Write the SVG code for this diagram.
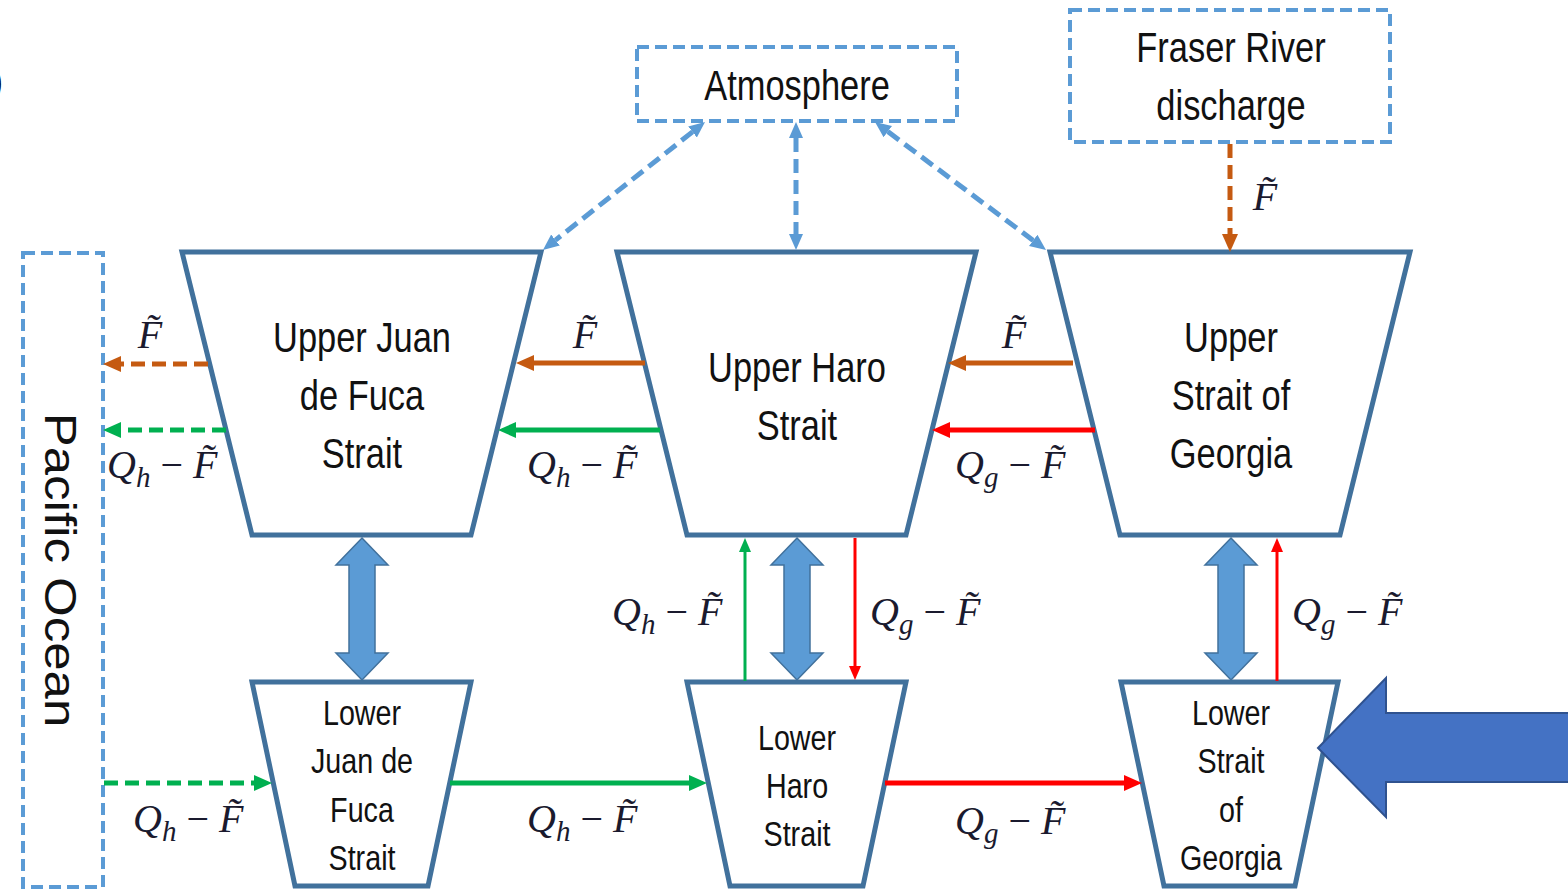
<svg xmlns="http://www.w3.org/2000/svg" width="1568" height="889" viewBox="0 0 1568 889">
<defs>
<style>
.trap{fill:#fff;stroke:#41719C;stroke-width:5;stroke-linejoin:miter}
.dbox{fill:none;stroke:#5B9BD5;stroke-width:4;stroke-dasharray:12 6}
.blk{fill:#5B9BD5;stroke:#41719C;stroke-width:1.5}
.nt{font-family:"Liberation Sans",Arial,sans-serif;font-size:42px;fill:#111;text-anchor:middle}
.lt{font-family:"Liberation Sans",Arial,sans-serif;font-size:35px;fill:#111;text-anchor:middle}
.bt{font-family:"Liberation Sans",Arial,sans-serif;font-size:51px;fill:#111;text-anchor:middle}
.m{font-family:"Liberation Serif","Times New Roman",serif;font-style:italic;font-size:40px;fill:#1a1a2e}
.m .op{font-style:normal}
.ad{fill:none;stroke:#5B9BD5;stroke-width:5;stroke-dasharray:14 7}
.od{fill:none;stroke:#C55A11;stroke-width:5;stroke-dasharray:14 7}
.gd{fill:none;stroke:#00B050;stroke-width:5;stroke-dasharray:14 7}
.os{fill:none;stroke:#C55A11;stroke-width:5}
.gs{fill:none;stroke:#00B050;stroke-width:5}
.rs{fill:none;stroke:#FF0000;stroke-width:5}
.gt{fill:none;stroke:#00B050;stroke-width:3}
.rt{fill:none;stroke:#FF0000;stroke-width:3}
</style>
<marker id="hb" viewBox="0 -8 16 16" refX="0" refY="0" markerWidth="16" markerHeight="16" markerUnits="userSpaceOnUse" orient="auto-start-reverse"><path d="M0,-7 L16,0 L0,7 z" fill="#5B9BD5"/></marker>
<marker id="ho" viewBox="0 -9 18 18" refX="0" refY="0" markerWidth="18" markerHeight="18" markerUnits="userSpaceOnUse" orient="auto-start-reverse"><path d="M0,-8 L18,0 L0,8 z" fill="#C55A11"/></marker>
<marker id="hg" viewBox="0 -9 18 18" refX="0" refY="0" markerWidth="18" markerHeight="18" markerUnits="userSpaceOnUse" orient="auto-start-reverse"><path d="M0,-8 L18,0 L0,8 z" fill="#00B050"/></marker>
<marker id="hr" viewBox="0 -9 18 18" refX="0" refY="0" markerWidth="18" markerHeight="18" markerUnits="userSpaceOnUse" orient="auto-start-reverse"><path d="M0,-8 L18,0 L0,8 z" fill="#FF0000"/></marker>
<marker id="hgt" viewBox="0 -7 14 14" refX="0" refY="0" markerWidth="14" markerHeight="14" markerUnits="userSpaceOnUse" orient="auto-start-reverse"><path d="M0,-6 L14,0 L0,6 z" fill="#00B050"/></marker>
<marker id="hrt" viewBox="0 -7 14 14" refX="0" refY="0" markerWidth="14" markerHeight="14" markerUnits="userSpaceOnUse" orient="auto-start-reverse"><path d="M0,-6 L14,0 L0,6 z" fill="#FF0000"/></marker>
</defs>
<rect width="1568" height="889" fill="#fff"/>
<text x="-10" y="95" font-family="Liberation Sans,Arial,sans-serif" font-size="40" fill="#000">)</text>

<g id="pacific">
<rect class="dbox" x="23" y="253" width="80" height="634"/>
<text class="bt" transform="translate(45,570) scale(0.86,1) rotate(90)">Pacific Ocean</text>
</g>
<g id="atmosphere">
<rect class="dbox" x="637" y="47" width="320" height="74"/>
<text class="nt" transform="translate(797,100) scale(0.82,1)">Atmosphere</text>
</g>
<g id="fraser">
<rect class="dbox" x="1070" y="10" width="320" height="132"/>
<text class="nt" transform="translate(1231,62) scale(0.82,1)">Fraser River</text>
<text class="nt" transform="translate(1231,120) scale(0.82,1)">discharge</text>
</g>

<g id="upper-jdf">
<polygon class="trap" points="182,252 541,252 471,535 252,535"/>
<text class="nt" transform="translate(362,352) scale(0.82,1)">Upper Juan</text>
<text class="nt" transform="translate(362,410) scale(0.82,1)">de Fuca</text>
<text class="nt" transform="translate(362,468) scale(0.82,1)">Strait</text>
</g>
<g id="upper-haro">
<polygon class="trap" points="617,252 976,252 906,535 687,535"/>
<text class="nt" transform="translate(797,382) scale(0.82,1)">Upper Haro</text>
<text class="nt" transform="translate(797,440) scale(0.82,1)">Strait</text>
</g>
<g id="upper-sog">
<polygon class="trap" points="1050,252 1410,252 1340,535 1120,535"/>
<text class="nt" transform="translate(1231,352) scale(0.82,1)">Upper</text>
<text class="nt" transform="translate(1231,410) scale(0.82,1)">Strait of</text>
<text class="nt" transform="translate(1231,468) scale(0.82,1)">Georgia</text>
</g>
<g id="lower-jdf">
<polygon class="trap" points="252,682 471,682 428,886 295,886"/>
<text class="lt" transform="translate(362,725) scale(0.82,1)">Lower</text>
<text class="lt" transform="translate(362,773) scale(0.82,1)">Juan de</text>
<text class="lt" transform="translate(362,822) scale(0.82,1)">Fuca</text>
<text class="lt" transform="translate(362,870) scale(0.82,1)">Strait</text>
</g>
<g id="lower-haro">
<polygon class="trap" points="687,682 906,682 863,886 730,886"/>
<text class="lt" transform="translate(797,750) scale(0.82,1)">Lower</text>
<text class="lt" transform="translate(797,798) scale(0.82,1)">Haro</text>
<text class="lt" transform="translate(797,846) scale(0.82,1)">Strait</text>
</g>
<g id="lower-sog">
<polygon class="trap" points="1121,682 1338,682 1295,886 1164,886"/>
<text class="lt" transform="translate(1231,725) scale(0.82,1)">Lower</text>
<text class="lt" transform="translate(1231,773) scale(0.82,1)">Strait</text>
<text class="lt" transform="translate(1231,822) scale(0.82,1)">of</text>
<text class="lt" transform="translate(1231,870) scale(0.82,1)">Georgia</text>
</g>

<g id="connectors">
<line class="ad" x1="692.5" y1="131.9" x2="555.5" y2="240.1" marker-start="url(#hb)" marker-end="url(#hb)"/>
<line class="ad" x1="796" y1="138" x2="796" y2="234" marker-start="url(#hb)" marker-end="url(#hb)"/>
<line class="ad" x1="887.8" y1="131.6" x2="1033.2" y2="240.4" marker-start="url(#hb)" marker-end="url(#hb)"/>
<line class="od" x1="1230" y1="144" x2="1230" y2="234" marker-end="url(#ho)"/>

<line class="od" x1="208" y1="364" x2="121" y2="364" marker-end="url(#ho)"/>
<line class="gd" x1="226" y1="430" x2="121" y2="430" marker-end="url(#hg)"/>
<line class="os" x1="645" y1="363" x2="534" y2="363" marker-end="url(#ho)"/>
<line class="gs" x1="660" y1="430" x2="516" y2="430" marker-end="url(#hg)"/>
<line class="os" x1="1073" y1="363" x2="966" y2="363" marker-end="url(#ho)"/>
<line class="rs" x1="1095" y1="430" x2="950" y2="430" marker-end="url(#hr)"/>

<line class="gt" x1="745" y1="681" x2="745" y2="552" marker-end="url(#hgt)"/>
<line class="rt" x1="855" y1="538" x2="855" y2="666" marker-end="url(#hrt)"/>
<line class="rt" x1="1277" y1="681" x2="1277" y2="552" marker-end="url(#hrt)"/>

<line class="gd" x1="104" y1="783" x2="254" y2="783" marker-end="url(#hg)"/>
<line class="gs" x1="450" y1="783" x2="689" y2="783" marker-end="url(#hg)"/>
<line class="rs" x1="885" y1="783" x2="1124" y2="783" marker-end="url(#hr)"/>

<polygon class="blk" points="362,538 388,565 375,565 375,653 388,653 362,680 336,653 349,653 349,565 336,565"/>
<polygon class="blk" points="797,538 823,565 810,565 810,653 823,653 797,680 771,653 784,653 784,565 771,565"/>
<polygon class="blk" points="1231,538 1257,565 1244,565 1244,653 1257,653 1231,680 1205,653 1218,653 1218,565 1205,565"/>

<polygon points="1318,748 1386,678 1386,713 1570,713 1570,782 1386,782 1386,817" fill="#4472C4" stroke="#2F528F" stroke-width="2"/>
</g>

<g id="labels">
<text class="m" x="1265" y="210" text-anchor="middle">F̃</text>
<text class="m" x="150" y="348" text-anchor="middle">F̃</text>
<text class="m" x="585" y="348" text-anchor="middle">F̃</text>
<text class="m" x="1014" y="348" text-anchor="middle">F̃</text>
<text class="m" x="107" y="478">Q<tspan font-size="29" dy="9">h</tspan><tspan class="op" dy="-9"> − </tspan>F̃</text>
<text class="m" x="527" y="478">Q<tspan font-size="29" dy="9">h</tspan><tspan class="op" dy="-9"> − </tspan>F̃</text>
<text class="m" x="955" y="478">Q<tspan font-size="29" dy="9">g</tspan><tspan class="op" dy="-9"> − </tspan>F̃</text>
<text class="m" x="612" y="625">Q<tspan font-size="29" dy="9">h</tspan><tspan class="op" dy="-9"> − </tspan>F̃</text>
<text class="m" x="870" y="625">Q<tspan font-size="29" dy="9">g</tspan><tspan class="op" dy="-9"> − </tspan>F̃</text>
<text class="m" x="1292" y="625">Q<tspan font-size="29" dy="9">g</tspan><tspan class="op" dy="-9"> − </tspan>F̃</text>
<text class="m" x="133" y="832">Q<tspan font-size="29" dy="9">h</tspan><tspan class="op" dy="-9"> − </tspan>F̃</text>
<text class="m" x="527" y="832">Q<tspan font-size="29" dy="9">h</tspan><tspan class="op" dy="-9"> − </tspan>F̃</text>
<text class="m" x="955" y="834">Q<tspan font-size="29" dy="9">g</tspan><tspan class="op" dy="-9"> − </tspan>F̃</text>
</g>
</svg>
